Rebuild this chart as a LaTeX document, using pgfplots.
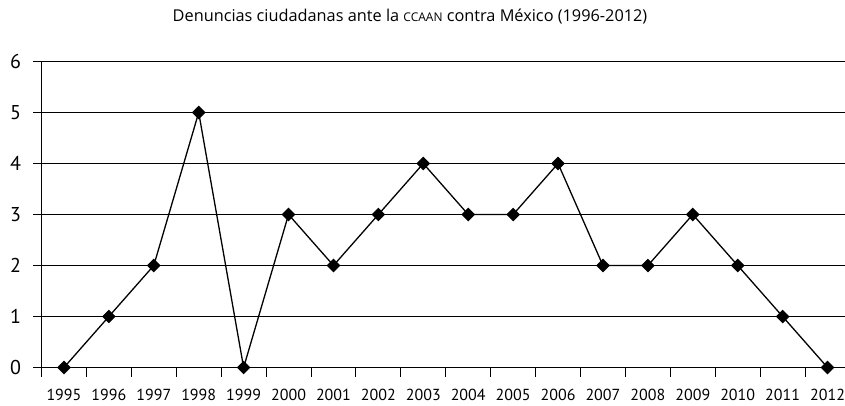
\documentclass[border=0pt]{standalone}
\usepackage{fontspec}
\setmainfont{PT Sans}
\newfontfamily\titlefont{Open Sans}
\usepackage{pgfplots}
\pgfplotsset{compat=1.18}
\begin{document}
\begin{tikzpicture}
\useasboundingbox (0pt,0pt) rectangle (845pt,-405pt);
\begin{axis}[
  at={(41.5pt,-367.5pt)}, anchor=south west,
  scale only axis, width=808.5pt, height=306pt,
  xmin=-0.5, xmax=17.5, ymin=0, ymax=6,
  /pgf/number format/assume math mode=true,
  axis lines=left, axis line style={-, black, line width=0.9pt},
  tick align=outside,
  xtick={0,...,17},
  xticklabels={1995,1996,1997,1998,1999,2000,2001,2002,2003,2004,2005,2006,2007,2008,2009,2010,2011,2012},
  major x tick style={draw=none},
  minor xtick={-0.5,0.5,...,17.5},
  minor x tick style={black, line width=0.9pt},
  minor tick length=9pt,
  major tick length=8pt,
  ytick={0,...,5},
  extra y ticks={6},
  extra y tick style={grid style={draw=gray!90, line width=1.4pt}},
  ymajorgrids,
  major grid style={black, line width=0.9pt},
  y tick style={black, line width=0.9pt},
  xticklabel style={font=\fontsize{16}{16}\selectfont, anchor=center, yshift=-19pt},
  yticklabel style={font=\fontsize{20}{20}\selectfont, anchor=center, xshift=-18pt},
  clip=false,
]
\addplot[black, line width=1.3pt, mark=square*, mark size=4.2pt, mark options={rotate=45, solid}]
coordinates {
(0,0) (1,1) (2,2) (3,5) (4,0) (5,3) (6,2) (7,3) (8,4) (9,3)
(10,3) (11,4) (12,2) (13,2) (14,3) (15,2) (16,1) (17,0)
};
\end{axis}
\node[anchor=base, inner sep=0pt] at (410pt,-21pt) {\titlefont\fontsize{16.3}{16.3}\selectfont Denuncias ciudadanas ante la {\fontsize{12}{12}\selectfont CCAAN} contra México (1996-2012)};
\end{tikzpicture}
\end{document}
